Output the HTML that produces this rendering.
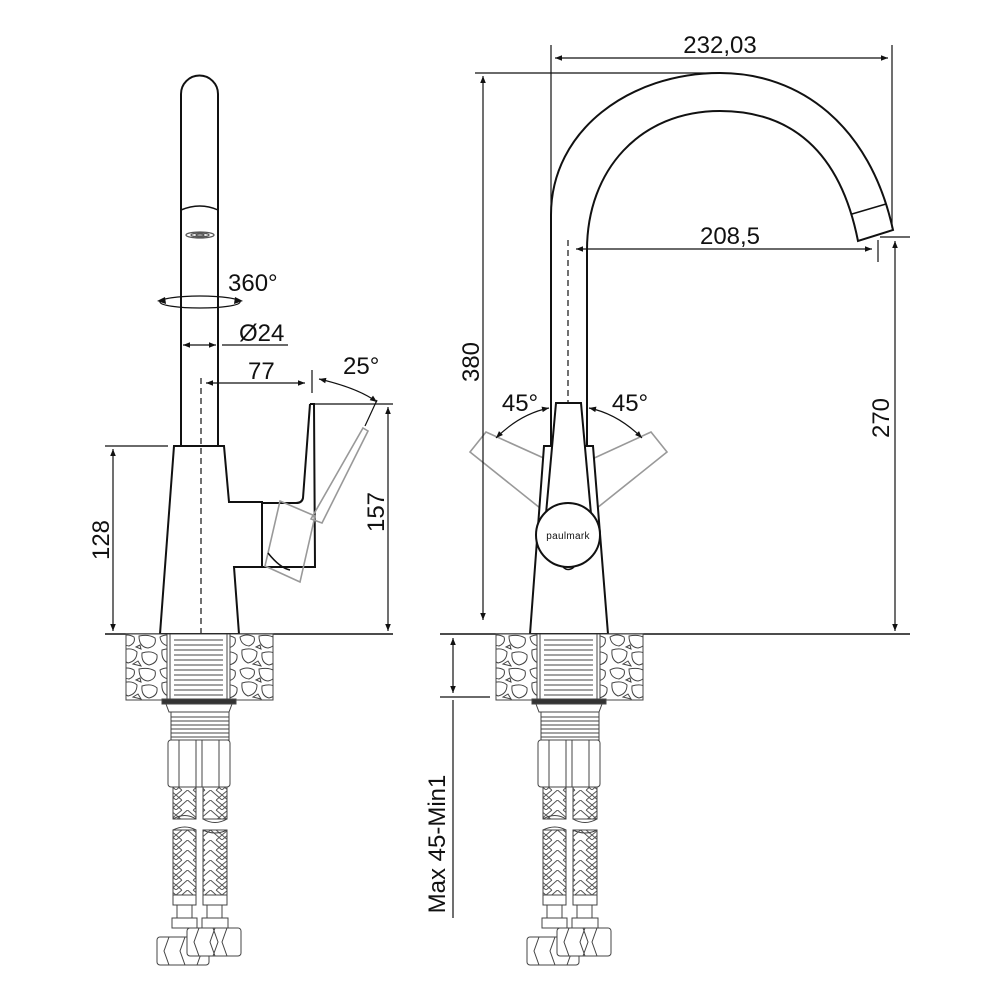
<!DOCTYPE html>
<html><head><meta charset="utf-8"><style>
html,body{margin:0;padding:0;background:#fff}
svg{display:block}
text{font-family:"Liberation Sans",sans-serif;fill:#111}
</style></head><body>
<svg width="1000" height="1000" viewBox="0 0 1000 1000" xmlns="http://www.w3.org/2000/svg">
<defs>
<marker id="a" viewBox="0 0 10 10" refX="10" refY="5" markerWidth="9" markerHeight="7" orient="auto-start-reverse" markerUnits="userSpaceOnUse"><path d="M0,1 L10,5 L0,9 z" fill="#111"/></marker>
<pattern id="stone" width="40" height="33" patternUnits="userSpaceOnUse" x="0" y="634">
<rect width="40" height="33" fill="#fff"/>
<g fill="none" stroke="#444" stroke-width="1">
<path d="M1,3 Q8,-1 15,3 Q17,9 10,12 Q2,11 1,3z"/><path d="M20,2 Q30,0 36,4 Q38,12 29,14 Q20,13 20,2z"/>
<path d="M3,16 Q13,13 18,18 Q18,27 9,29 Q2,26 3,16z"/><path d="M23,19 Q33,16 38,21 Q39,29 30,31 Q22,29 23,19z"/>
<path d="M14,30 l5,-3 l3,5z"/><path d="M17,13 l4,-2 l1,4z"/>
</g></pattern>
<pattern id="braid" width="23" height="10" patternUnits="userSpaceOnUse">
<g stroke="#555" stroke-width="1" fill="none"><path d="M0,10 L11.5,0 L23,10 M0,5 L6,0 M17,0 L23,5 M0,5 L5.75,10 M23,5 L17.25,10"/></g></pattern>
<g id="under" stroke="#444" stroke-width="1" fill="#fff">
<rect x="-73" y="634" width="147" height="66" fill="url(#stone)"/>
<rect x="-32" y="634" width="63" height="66" fill="#fff"/>
<line x1="-29" y1="634" x2="-29" y2="700"/><line x1="28" y1="634" x2="28" y2="700"/>
<path d="M-25,640 H24 M-25,645 H24 M-25,650 H24 M-25,655 H24 M-25,660 H24 M-25,665 H24 M-25,670 H24 M-25,675 H24 M-25,680 H24 M-25,685 H24 M-25,690 H24 M-25,695 H24"/>
<rect x="-37" y="699" width="74" height="5" fill="#333"/>
<path d="M-33,704 H33 L30,712 H-30 Z"/>
<rect x="-28" y="712" width="58" height="28"/>
<path d="M-28,717 H30 M-28,721 H30 M-28,725 H30 M-28,729 H30 M-28,733 H30 M-28,737 H30"/>
<rect x="-31" y="740" width="62" height="47" rx="3"/>
<path d="M-20,740 V787 M-3,740 V787 M3,740 V787 M20,740 V787"/>
<rect x="-26" y="787" width="23" height="32" fill="url(#braid)"/>
<rect x="4" y="787" width="24" height="32" fill="url(#braid)"/>
<rect x="-26" y="830" width="23" height="65" fill="url(#braid)"/>
<rect x="4" y="830" width="24" height="65" fill="url(#braid)"/>
<path d="M-26,819 Q-14,812 -3,819 M4,819 Q16,826 28,819 M-26,830 Q-14,824 -3,830 M4,830 Q16,836 28,830" fill="none"/>
<rect x="-26" y="895" width="23" height="10"/><rect x="4" y="895" width="24" height="10"/>
<rect x="-22" y="905" width="15" height="13"/><rect x="8" y="905" width="15" height="13"/>
<rect x="-27" y="918" width="25" height="10"/><rect x="3" y="918" width="26" height="10"/>
<rect x="-42" y="937" width="52" height="28" rx="3"/>
<path d="M-30,937 l-5,14 l5,14 M-14,937 l-5,14 l5,14 M-2,937 l5,14 l-5,14"/>
<rect x="-12" y="928" width="54" height="28" rx="3"/>
<path d="M0,928 l-5,14 l5,14 M14,928 l5,14 l-5,14 M28,928 l-5,14 l5,14 M16,928 l-5,14 l5,14"/>
</g>
</defs>

<!-- ===== LEFT VIEW ===== -->
<g fill="none" stroke="#111" stroke-width="2">
<path d="M181,446 V94 A18.5,18.5 0 0 1 218,94 V446"/>
<path d="M181,210 Q200,202 218,210" stroke-width="1.5"/>
<path d="M174,446 H224 L229,502 H262 V567 H234 L239,634 H160 Z" fill="#fff"/>
<path d="M310,404 H314 L315,567 H262 M310,404 L303,498 Q302,503 296,503 H262"/>
</g>
<g fill="none" stroke="#555" stroke-width="1.3">
<ellipse cx="200" cy="235" rx="14" ry="3"/><ellipse cx="200" cy="235" rx="9" ry="2"/><ellipse cx="200" cy="235" rx="4" ry="1"/>
</g>
<g fill="none" stroke="#999" stroke-width="1.6">
<path d="M363,428 L368,431 L322,523 L311,519 Z"/>
<path d="M280,501 L315,516 L300,582 L265,566 Z"/>
</g>
<path d="M268,553 Q280,568 290,570" fill="none" stroke="#111" stroke-width="1.5"/>
<g stroke="#111" stroke-width="1.2" fill="none">
<line x1="201" y1="378" x2="201" y2="634" stroke-dasharray="6,4"/>
<ellipse cx="200" cy="302" rx="40" ry="6"/>
<line x1="183" y1="345" x2="216" y2="345" marker-start="url(#a)" marker-end="url(#a)"/>
<line x1="222" y1="345" x2="288" y2="345"/>
<line x1="206" y1="383" x2="305" y2="383" marker-start="url(#a)" marker-end="url(#a)"/>
<line x1="312" y1="370" x2="312" y2="393"/>
<path d="M319,379 Q358,388 377,402" marker-start="url(#a)" marker-end="url(#a)"/>
<line x1="377" y1="400" x2="365" y2="426"/>
<line x1="314" y1="404" x2="393" y2="404"/>
<line x1="388" y1="407" x2="388" y2="631" marker-start="url(#a)" marker-end="url(#a)"/>
<line x1="105" y1="446" x2="168" y2="446"/>
<line x1="113" y1="449" x2="113" y2="631" marker-start="url(#a)" marker-end="url(#a)"/>
<line x1="105" y1="634" x2="393" y2="634" stroke-width="1.5"/>
</g>
<path d="M165,297 l-8,4 l9,3" fill="#111"/><path d="M235,297 l8,4 l-9,3" fill="#111"/>
<text x="228" y="291" font-size="24">360°</text>
<text x="239" y="341" font-size="24">Ø24</text>
<text x="248" y="379" font-size="24">77</text>
<text x="343" y="374" font-size="24">25°</text>
<text font-size="24" transform="translate(109,540) rotate(-90)" text-anchor="middle">128</text>
<text font-size="24" transform="translate(384,512) rotate(-90)" text-anchor="middle">157</text>
<use href="#under" transform="translate(199,0)"/>

<!-- ===== RIGHT VIEW ===== -->
<g fill="none" stroke="#999" stroke-width="1.6">
<path d="M548,460 L486,432 L470,452 L545,512"/>
<path d="M590,460 L651,432 L667,452 L592,512"/>
</g>
<g fill="none" stroke="#111" stroke-width="2">
<path d="M551,446 V215 C551,130 630,73 720,73 C800,73 870,125 893,230 L858,241 C840,150 790,111 720,111 C640,111 587,170 587,250 V446"/>
<path d="M852,214 L886,204" stroke-width="1.5"/>
<path d="M544,446 H593 L608,634 H530 Z" fill="#fff"/>
<path d="M556,403 H581 L593,536 H544 Z" fill="#fff"/>
<circle cx="568" cy="535" r="32" fill="#fff"/>
<path d="M563,567 Q568,572 574,567" stroke-width="1.5"/>
</g>
<text x="568" y="539" font-size="10" text-anchor="middle" letter-spacing="0.3">paulmark</text>
<g stroke="#111" stroke-width="1.2" fill="none">
<line x1="568" y1="240" x2="568" y2="402" stroke-dasharray="6,4"/>
<line x1="551" y1="45" x2="551" y2="215"/>
<line x1="892" y1="45" x2="892" y2="228"/>
<line x1="555" y1="58" x2="888" y2="58" marker-start="url(#a)" marker-end="url(#a)"/>
<line x1="576" y1="249" x2="872" y2="249" marker-start="url(#a)" marker-end="url(#a)"/>
<line x1="878" y1="240" x2="878" y2="262"/>
<line x1="475" y1="73" x2="720" y2="73"/>
<line x1="483" y1="76" x2="483" y2="620" marker-start="url(#a)" marker-end="url(#a)"/>
<line x1="880" y1="237" x2="910" y2="237"/>
<line x1="895" y1="241" x2="895" y2="631" marker-start="url(#a)" marker-end="url(#a)"/>
<line x1="440" y1="634" x2="910" y2="634" stroke-width="1.5"/>
<line x1="440" y1="697" x2="490" y2="697"/>
<line x1="453" y1="638" x2="453" y2="693" marker-start="url(#a)" marker-end="url(#a)"/>
<line x1="453" y1="700" x2="453" y2="918"/>
<path d="M496,438 Q520,414 549,408" marker-start="url(#a)" marker-end="url(#a)"/>
<path d="M642,438 Q618,414 589,408" marker-start="url(#a)" marker-end="url(#a)"/>
</g>
<text x="720" y="53" font-size="24" text-anchor="middle">232,03</text>
<text x="730" y="244" font-size="24" text-anchor="middle">208,5</text>
<text x="520" y="411" font-size="24" text-anchor="middle">45°</text>
<text x="630" y="411" font-size="24" text-anchor="middle">45°</text>
<text font-size="24" transform="translate(479,362) rotate(-90)" text-anchor="middle">380</text>
<text font-size="24" transform="translate(889,418) rotate(-90)" text-anchor="middle">270</text>
<text font-size="24" transform="translate(445,844) rotate(-90)" text-anchor="middle">Max 45-Min1</text>
<use href="#under" transform="translate(569,0)"/>
</svg>
</body></html>
